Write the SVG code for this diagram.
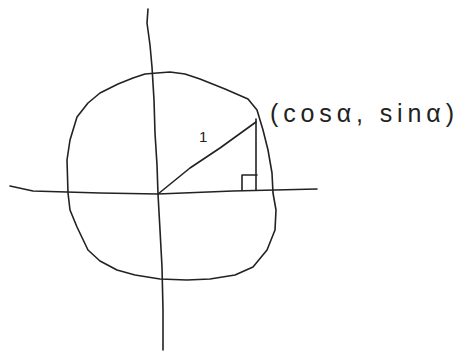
<svg xmlns="http://www.w3.org/2000/svg" width="468" height="357" viewBox="0 0 468 357">
<style>
.s{fill:none;stroke:#222;stroke-width:1.6;stroke-linecap:round;stroke-linejoin:round}
.t{font-family:"Liberation Sans","DejaVu Sans",sans-serif;fill:#222}
</style>
<rect width="468" height="357" fill="#fff"/>
<g id="axes">
<polyline class="s" points="148,9 147,23 150,45 152,67 154,100 155,133 157,165 158,194 160,230 162,267 163,310 163,350"/>
<polyline class="s" points="10,186 33,191 100,193 158,194 233,191 317,189"/>
</g>
<g id="circle">
<polyline class="s" points="157,73 170,72 185,74 200,79 225,89 248,99 257,110 263,130 268,150 272,173 273,193 276,210 275,230 267,250 253,267 235,275 210,279 187,280 160,279 135,275 117,270 100,261 88,250 77,227 70,210 68,193 67,160 70,140 77,117 88,103 100,93 118,84 133,78 145,74 157,73"/>
</g>
<g id="triangle">
<polyline class="s" points="158,194 190,168 220,148 256,122"/>
<line class="s" x1="256" y1="119" x2="256" y2="190"/>
<polyline class="s" points="242,190 242,175 257,175"/>
</g>
<g id="labels">
<text class="t" x="199" y="142" font-size="15">1</text>
<text class="t" x="270" y="122" font-size="25" textLength="184" lengthAdjust="spacing">(cosα, sinα)</text>
</g>
</svg>
